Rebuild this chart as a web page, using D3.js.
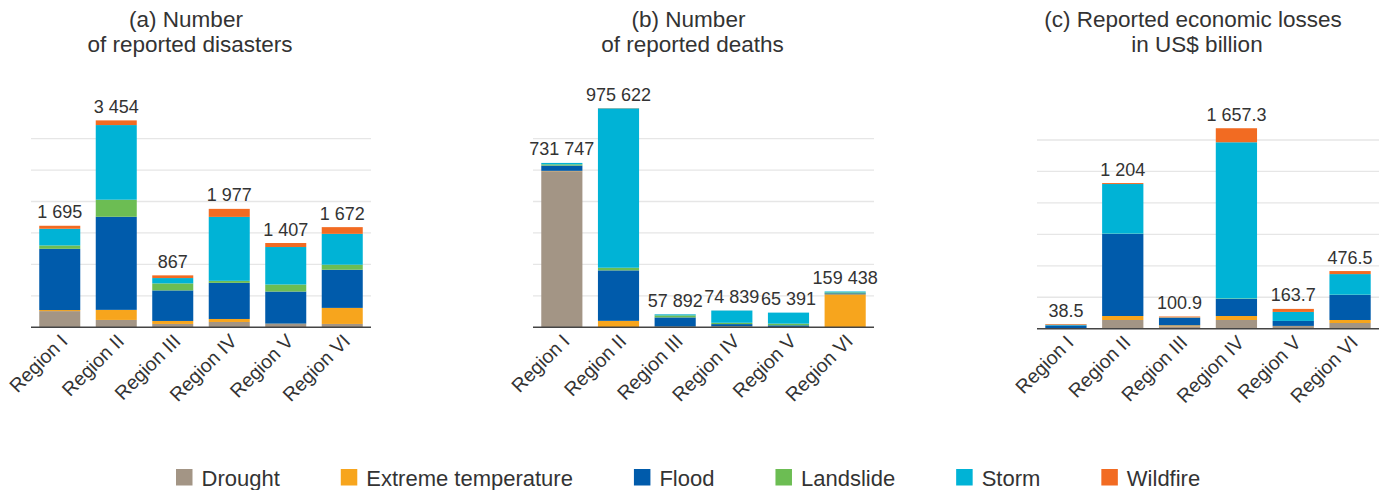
<!DOCTYPE html>
<html><head><meta charset="utf-8">
<script src="https://cdn.jsdelivr.net/npm/d3@7"></script>
<style>
body{margin:0;background:#fff}
svg{display:block}
text{font-family:"Liberation Sans", Arial, sans-serif; fill:#333}
</style>
</head><body>
<svg id="chart" width="1386" height="490"></svg>
<script>
// ---- data ----
const regions = ["Region I", "Region II", "Region III", "Region IV", "Region V", "Region VI"];
const hazards = ["Drought", "Extreme temperature", "Flood", "Landslide", "Storm", "Wildfire"];
const hazardColors = ["#a39585", "#f7a51d", "#005bab", "#6cbd53", "#00b3d6", "#f26b22"];

// rows = hazards (same order as above), columns = regions
const disasters = [
  [270, 123, 56, 89, 56, 56],
  [18, 168, 50, 50, 5, 268],
  [1022, 1554, 510, 603, 536, 637],
  [56, 285, 117, 34, 117, 84],
  [279, 1246, 89, 1067, 626, 515],
  [50, 78, 45, 134, 67, 112]
];
const deaths = [
  [695000, 722, 500, 1500, 1000, 500],
  [1500, 28000, 2500, 2500, 500, 146300],
  [23500, 224700, 41000, 10300, 7400, 4500],
  [5500, 11800, 9000, 5900, 7400, 4000],
  [6200, 709400, 4700, 54439, 49091, 4138],
  [47, 1000, 192, 200, 0, 0]
];
const losses = [
  [2, 72, 20, 72, 22, 47],
  [1, 33, 8, 33, 1, 25],
  [24, 679, 61, 141, 41, 207],
  [0.5, 2, 0.9, 4, 0.2, 2],
  [5.5, 410, 3, 1291.3, 74.5, 170.5],
  [5.5, 8, 8, 116, 25, 25]
];
const disasterTotals = [1695, 3454, 867, 1977, 1407, 1672];
const deathTotals = [731747, 975622, 57892, 74839, 65391, 159438];
const lossTotals = [38.5, 1204, 100.9, 1657.3, 163.7, 476.5];

const panelTitles = [
  ["(a) Number", "of reported disasters"],
  ["(b) Number", "of reported deaths"],
  ["(c) Reported economic losses", "in US$ billion"]
];
const gridMax = [3150, 840000, 1560];
const gridCount = 6;

// ---- layout ----
const panels = [
  {values: disasters, totals: disasterTotals, x0: 31, x1: 371, base: 327.3},
  {values: deaths, totals: deathTotals, x0: 533, x1: 874, base: 327.3},
  {values: losses, totals: lossTotals, x0: 1037, x1: 1379, base: 328.7}
];
const plotH = 188.7;

const svg = d3.select("#chart");
const loc = d3.formatLocale({decimal: ".", thousands: " ", grouping: [3], currency: ["", ""]});
const fmtInt = loc.format(",d"), fmtDec = loc.format(",.1f");
const fmt = v => Number.isInteger(v) ? fmtInt(v) : fmtDec(v);

panels.forEach((p, pi) => {
  const g = svg.append("g");
  const x = d3.scaleBand().domain(regions).range([p.x0, p.x1]).paddingInner(0.274).paddingOuter(0.146);
  const y = d3.scaleLinear().domain([0, gridMax[pi]]).range([p.base, p.base - plotH]);

  // gridlines
  const gridVals = d3.range(1, gridCount + 1).map(i => gridMax[pi] * i / gridCount);
  g.selectAll("line.grid").data(gridVals).join("line")
    .attr("x1", p.x0).attr("x2", p.x1)
    .attr("y1", d => y(d)).attr("y2", d => y(d))
    .attr("stroke", "#e6e6e6").attr("stroke-width", 1.3);

  // stacked data
  const rows = regions.map((r, ri) => {
    const o = {region: r};
    hazards.forEach((h, hi) => o[h] = p.values[hi][ri]);
    return o;
  });
  const stack = d3.stack().keys(hazards)(rows);
  g.selectAll("g.layer").data(stack).join("g")
    .attr("fill", (d, i) => hazardColors[i])
    .selectAll("rect").data(d => d).join("rect")
    .attr("x", d => x(d.data.region))
    .attr("width", x.bandwidth())
    .attr("y", d => y(d[1]))
    .attr("height", d => Math.max(0, y(d[0]) - y(d[1])));

  // baseline axis
  g.append("line").attr("x1", p.x0).attr("x2", p.x1)
    .attr("y1", p.base).attr("y2", p.base)
    .attr("stroke", "#444").attr("stroke-width", 1.5);

  // totals
  g.selectAll("text.total").data(p.totals).join("text")
    .attr("x", (d, i) => x(regions[i]) + x.bandwidth() / 2)
    .attr("y", d => y(d) - 7.5)
    .attr("text-anchor", "middle")
    .attr("font-size", 18)
    .text(d => fmt(d));

  // x labels
  g.selectAll("text.xl").data(regions).join("text")
    .attr("transform", d => `translate(${x(d) + x.bandwidth() / 2 + 9},${p.base + 15}) rotate(-45)`)
    .attr("text-anchor", "end")
    .attr("font-size", 19.5)
    .text(d => d);

  // title
  const cx = (p.x0 + p.x1) / 2;
  const lineOffsets = [-15, -11];
  panelTitles[pi].forEach((t, li) => {
    svg.append("text").attr("x", cx + lineOffsets[li]).attr("y", 27 + li * 25)
      .attr("text-anchor", "middle").attr("font-size", 22.5).text(t);
  });
});

// legend
const lg = svg.append("g").attr("transform", "translate(176,469)");
let lx = 0;
hazards.forEach((h, i) => {
  const it = lg.append("g").attr("transform", `translate(${lx},0)`);
  it.append("rect").attr("width", 16.5).attr("height", 16.5).attr("fill", hazardColors[i]);
  const t = it.append("text").attr("x", 25.5).attr("y", 16.5).attr("font-size", 22).text(h);
  lx += 25.5 + t.node().getComputedTextLength() + 61;
});
</script>
</body></html>
